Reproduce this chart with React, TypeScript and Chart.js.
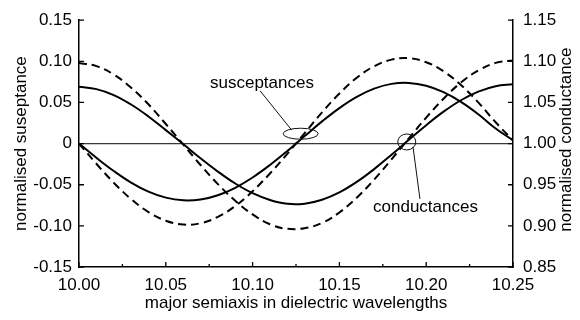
import React, { useEffect, useRef } from "react";
import { Chart, registerables } from "chart.js";

Chart.register(...registerables);

// ---- data ----
const X_VALUES = [
  10.0, 10.01, 10.02, 10.03, 10.04, 10.05, 10.06, 10.07, 10.08, 10.09, 10.1, 10.11, 10.12,
  10.13, 10.14, 10.15, 10.16, 10.17, 10.18, 10.19, 10.2, 10.21, 10.22, 10.23, 10.24, 10.25,
];

const SUSCEPTANCE_SOLID = [
  0.0, -0.0172, -0.0333, -0.0474, -0.0584, -0.0657, -0.069, -0.068, -0.0628, -0.0537, -0.0412,
  -0.026, -0.009, 0.0091, 0.027, 0.0432, 0.0568, 0.0668, 0.0726, 0.0738, 0.0704, 0.0625, 0.0507,
  0.0357, 0.0184, 0.004,
];

const SUSCEPTANCE_DASHED = [
  0.0, -0.0245, -0.0475, -0.0674, -0.0832, -0.0937, -0.0983, -0.0968, -0.0891, -0.0759, -0.0579,
  -0.0363, -0.0124, 0.0128, 0.038, 0.0609, 0.08, 0.094, 0.1021, 0.1038, 0.0989, 0.0878, 0.0712,
  0.0501, 0.0259, 0.004,
];

const CONDUCTANCE_SOLID = [
  1.069, 1.0662, 1.059, 1.0475, 1.033, 1.0164, 0.9994, 0.9822, 0.966, 0.9515, 0.9397, 0.9315,
  0.9268, 0.927, 0.9318, 0.9407, 0.9534, 0.969, 0.9864, 1.0046, 1.0224, 1.0388, 1.0527, 1.0632,
  1.0698, 1.072,
];

const CONDUCTANCE_DASHED = [
  1.098, 1.0942, 1.084, 1.068, 1.0478, 1.0238, 0.999, 0.974, 0.9507, 0.9305, 0.9139, 0.902,
  0.8964, 0.8972, 0.9035, 0.9163, 0.9342, 0.9562, 0.9808, 1.0064, 1.0316, 1.0546, 1.0742, 1.0889,
  1.0981, 1.101,
];

const LEFT_TICKS = [-0.15, -0.1, -0.05, 0, 0.05, 0.1, 0.15];
const LEFT_LABELS = ["-0.15", "-0.10", "-0.05", "0", "0.05", "0.10", "0.15"];
const RIGHT_TICKS = [0.85, 0.9, 0.95, 1.0, 1.05, 1.1, 1.15];
const RIGHT_LABELS = ["0.85", "0.90", "0.95", "1.00", "1.05", "1.10", "1.15"];
const X_TICKS = [10.0, 10.05, 10.1, 10.15, 10.2, 10.25];
const X_LABELS = ["10.00", "10.05", "10.10", "10.15", "10.20", "10.25"];
const X_MINOR_TICKS = [10.025, 10.075, 10.125, 10.175, 10.225];

const LEFT_TITLE = "normalised suseptance";
const RIGHT_TITLE = "normalised conductance";
const X_TITLE = "major semiaxis in dielectric wavelengths";
const SUSC_LABEL = "susceptances";
const COND_LABEL = "conductances";

const FONT_FAMILY = "'Liberation Sans', Arial, Helvetica, sans-serif";
const FONT_SIZE = 17;

const decorPlugin = {
  id: "decor",
  beforeDatasetsDraw(chart: any) {
    const { ctx, chartArea, scales } = chart;
    const y0 = scales.y.getPixelForValue(0);
    ctx.save();
    ctx.strokeStyle = "#3a3a3a";
    ctx.lineWidth = 1.2;
    ctx.beginPath();
    ctx.moveTo(chartArea.left, y0);
    ctx.lineTo(chartArea.right, y0);
    ctx.stroke();
    ctx.restore();
  },
  afterDraw(chart: any) {
    const { ctx, chartArea, scales } = chart;
    const sx = scales.x;
    const sy = scales.y;
    const sy2 = scales.y2;
    ctx.save();
    ctx.strokeStyle = "#000";
    ctx.lineWidth = 1.3;
    // tick marks pointing inward
    ctx.beginPath();
    LEFT_TICKS.forEach((v) => {
      const p = sy.getPixelForValue(v);
      ctx.moveTo(chartArea.left, p);
      ctx.lineTo(chartArea.left + 5, p);
    });
    RIGHT_TICKS.forEach((v) => {
      const p = sy2.getPixelForValue(v);
      ctx.moveTo(chartArea.right, p);
      ctx.lineTo(chartArea.right - 5, p);
    });
    X_TICKS.forEach((v) => {
      const p = sx.getPixelForValue(v);
      ctx.moveTo(p, chartArea.bottom);
      ctx.lineTo(p, chartArea.bottom - 5);
    });
    X_MINOR_TICKS.forEach((v) => {
      const p = sx.getPixelForValue(v);
      ctx.moveTo(p, chartArea.bottom);
      ctx.lineTo(p, chartArea.bottom - 3);
    });
    ctx.stroke();

    // annotations
    ctx.lineWidth = 1;
    ctx.strokeStyle = "#111";
    // susceptances ellipse + leader
    const ex1 = sx.getPixelForValue(10.1277);
    const ey1 = sy.getPixelForValue(0.012);
    ctx.beginPath();
    ctx.ellipse(ex1, ey1, 17.5, 5.5, 0, 0, Math.PI * 2);
    ctx.stroke();
    ctx.beginPath();
    ctx.moveTo(sx.getPixelForValue(10.1043), sy.getPixelForValue(0.0642));
    ctx.lineTo(sx.getPixelForValue(10.1225), sy.getPixelForValue(0.0164));
    ctx.stroke();
    // conductances ellipse + leader
    const ex2 = sx.getPixelForValue(10.1888);
    const ey2 = sy.getPixelForValue(0.002);
    ctx.beginPath();
    ctx.ellipse(ex2, ey2, 9, 8, 0, 0, Math.PI * 2);
    ctx.stroke();
    ctx.beginPath();
    ctx.moveTo(sx.getPixelForValue(10.1924), sy.getPixelForValue(-0.004));
    ctx.lineTo(sx.getPixelForValue(10.1964), sy.getPixelForValue(-0.0673));
    ctx.stroke();

    ctx.fillStyle = "#000";
    ctx.font = `${FONT_SIZE}px ${FONT_FAMILY}`;
    ctx.textAlign = "center";
    ctx.textBaseline = "middle";
    ctx.fillText(SUSC_LABEL, sx.getPixelForValue(10.1054), sy.getPixelForValue(0.0738));
    ctx.fillText(COND_LABEL, sx.getPixelForValue(10.1996), sy.getPixelForValue(-0.0778));

    // right axis title (reads bottom-to-top)
    ctx.translate(566, (chartArea.top + chartArea.bottom) / 2 - 4);
    ctx.rotate(-Math.PI / 2);
    ctx.fillText(RIGHT_TITLE, 0, 0);
    ctx.restore();
  },
};

export default function App() {
  const canvasRef = useRef<HTMLCanvasElement | null>(null);

  useEffect(() => {
    if (!canvasRef.current) return;
    const mk = (vals: number[]) => X_VALUES.map((x, i) => ({ x, y: vals[i] }));
    const lineBase = {
      borderColor: "#000",
      borderWidth: 2,
      pointRadius: 0,
      fill: false,
      tension: 0.4,
    };
    const font = { family: FONT_FAMILY, size: FONT_SIZE };
    const chart = new Chart(canvasRef.current, {
      type: "line",
      data: {
        datasets: [
          { ...lineBase, label: "susceptance (solid)", data: mk(SUSCEPTANCE_SOLID), yAxisID: "y" },
          {
            ...lineBase,
            label: "susceptance (dashed)",
            data: mk(SUSCEPTANCE_DASHED),
            yAxisID: "y",
            borderDash: [8, 5],
          },
          { ...lineBase, label: "conductance (solid)", data: mk(CONDUCTANCE_SOLID), yAxisID: "y2" },
          {
            ...lineBase,
            label: "conductance (dashed)",
            data: mk(CONDUCTANCE_DASHED),
            yAxisID: "y2",
            borderDash: [8, 5],
          },
        ],
      },
      options: {
        animation: false,
        responsive: false,
        devicePixelRatio: 1,
        layout: { padding: { top: 16, left: 0, right: 0, bottom: 0 } },
        plugins: { legend: { display: false }, tooltip: { enabled: false } },
        scales: {
          x: {
            type: "linear",
            min: 10.0,
            max: 10.25,
            grid: { display: false, drawTicks: false },
            border: { display: true, color: "#000", width: 1.5 },
            afterBuildTicks: (s: any) => {
              s.ticks = X_TICKS.map((v) => ({ value: v }));
            },
            afterFit: (s: any) => {
              s.height = 53;
            },
            ticks: {
              color: "#000",
              font,
              padding: 8,
              maxRotation: 0,
              autoSkip: false,
              callback: (_v: any, i: number) => X_LABELS[i],
            },
            title: {
              display: true,
              text: X_TITLE,
              color: "#000",
              font,
              padding: { top: 0, bottom: 6 },
            },
          },
          y: {
            type: "linear",
            position: "left",
            min: -0.15,
            max: 0.15,
            grid: { display: false, drawTicks: false },
            border: { display: true, color: "#000", width: 1.5 },
            afterBuildTicks: (s: any) => {
              s.ticks = LEFT_TICKS.map((v) => ({ value: v }));
            },
            afterFit: (s: any) => {
              s.width = 79;
            },
            ticks: {
              color: "#000",
              font,
              padding: 7,
              autoSkip: false,
              callback: (_v: any, i: number) => LEFT_LABELS[i],
            },
            title: {
              display: true,
              text: LEFT_TITLE,
              color: "#000",
              font,
              padding: { top: 11, bottom: 0 },
            },
          },
          y2: {
            type: "linear",
            position: "right",
            min: 0.85,
            max: 1.15,
            grid: { display: false, drawTicks: false },
            border: { display: true, color: "#000", width: 1.5 },
            afterBuildTicks: (s: any) => {
              s.ticks = RIGHT_TICKS.map((v) => ({ value: v }));
            },
            afterFit: (s: any) => {
              s.width = 67;
            },
            ticks: {
              color: "#000",
              font,
              padding: 10,
              autoSkip: false,
              callback: (_v: any, i: number) => RIGHT_LABELS[i],
            },
          },
        },
      },
      plugins: [decorPlugin],
    } as any);
    return () => chart.destroy();
  }, []);

  return (
    <div style={{ position: "fixed", left: 0, top: 0, width: 580, height: 320, background: "#fff" }}>
      <canvas ref={canvasRef} width={580} height={320} />
    </div>
  );
}
